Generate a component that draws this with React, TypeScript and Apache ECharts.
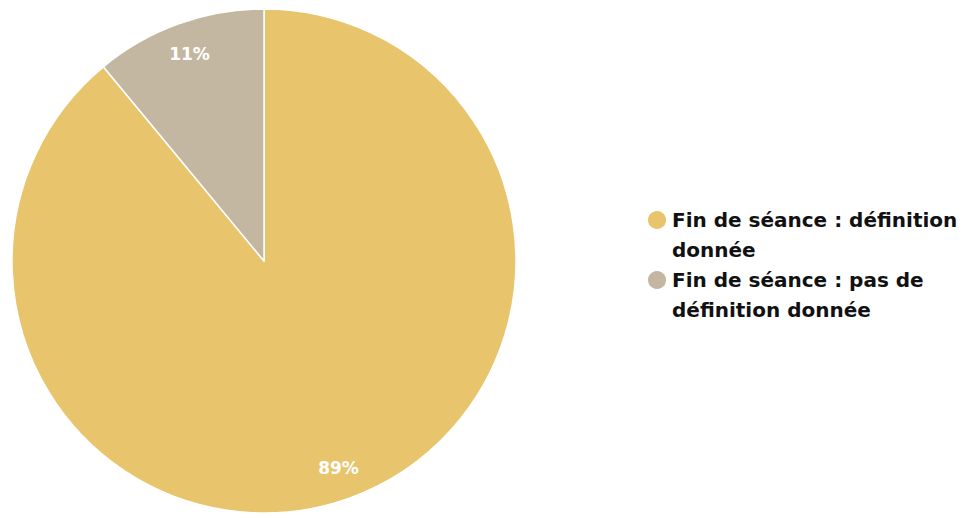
import React, { useEffect, useRef } from "react";
import * as echarts from "echarts";

const categories = [
  "Fin de séance : définition donnée",
  "Fin de séance : pas de définition donnée",
];
const legendLines = [
  "\nFin de séance : définition\ndonnée",
  "\nFin de séance : pas de\ndéfinition donnée",
];
const values = [89, 11];
const colors = ["#E8C56D", "#C3B7A1"];

export default function App() {
  const ref = useRef<HTMLDivElement>(null);
  useEffect(() => {
    if (!ref.current) return;
    const chart = echarts.init(ref.current, null, { renderer: "svg" });
    const data = categories.map((name, i) => ({
      name,
      value: values[i],
      itemStyle: { color: colors[i] },
    }));
    chart.setOption({
      animation: false,
      backgroundColor: "#ffffff",
      legend: {
        orient: "vertical",
        left: 646,
        top: 175,
        padding: 0,
        itemWidth: 20,
        itemHeight: 20,
        itemGap: -30,
        icon: "circle",
        data: categories,
        formatter: (name: string) => legendLines[categories.indexOf(name)],
        textStyle: {
          fontFamily: "DejaVu Sans",
          fontWeight: "bold",
          fontSize: 20,
          lineHeight: 30,
          color: "#111111",
        },
      },
      series: [
        {
          type: "pie",
          center: [264, 261],
          radius: [0, 252],
          startAngle: 90,
          clockwise: true,
          label: { show: false },
          labelLine: { show: false },
          itemStyle: { borderColor: "#ffffff", borderWidth: 1.5 },
          emphasis: { disabled: true },
          data,
        },
        {
          type: "pie",
          center: [264, 261],
          radius: [182, 252],
          startAngle: 90,
          clockwise: true,
          silent: true,
          legendHoverLink: false,
          itemStyle: { color: "rgba(0,0,0,0)", borderWidth: 0 },
          labelLine: { show: false },
          label: {
            show: true,
            position: "inside",
            formatter: "{c}%",
            color: "#ffffff",
            fontFamily: "DejaVu Sans",
            fontWeight: "bold",
            fontSize: 17,
          },
          emphasis: { disabled: true },
          data: categories.map((name, i) => ({
            name,
            value: values[i],
            itemStyle: { color: "rgba(0,0,0,0)" },
          })),
        },
      ],
    });
    return () => chart.dispose();
  }, []);
  return (
    <div
      ref={ref}
      style={{ position: "fixed", left: 0, top: 0, width: 963, height: 518 }}
    />
  );
}
